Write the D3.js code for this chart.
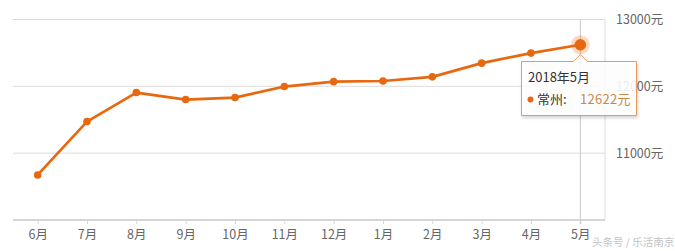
<!DOCTYPE html>
<html>
<head>
<meta charset="utf-8">
<script src="https://cdn.jsdelivr.net/npm/d3@7"></script>
<style>
  body { margin: 0; background: #fff; }
  svg { display: block; font-family: "Noto Sans CJK SC", "Noto Sans", sans-serif; }
</style>
</head>
<body>
<div id="chart"></div>
<script>
// data
const months = ['6月', '7月', '8月', '9月', '10月', '11月', '12月', '1月', '2月', '3月', '4月', '5月'];
const prices = [10674, 11473, 11907, 11802, 11832, 11997, 12070, 12080, 12142, 12347, 12497, 12622];
const yTicks = [11000, 12000, 13000];
const tipTitle = '2018年5月';
const seriesName = '常州';

const width = 675, height = 251;
const plotLeft = 13, plotRight = 605, plotTop = 19.5, plotBottom = 220;
const orange = '#e8680f';

const svg = d3.select('#chart').append('svg')
    .attr('width', width)
    .attr('height', height);

const x = d3.scalePoint().domain(months).range([plotLeft, plotRight]).padding(0.5);
const y = d3.scaleLinear().domain([10000, 13000]).range([plotBottom, plotTop]);

// grid lines
svg.append('g')
    .selectAll('line')
    .data(yTicks)
    .join('line')
    .attr('x1', plotLeft).attr('x2', plotRight)
    .attr('y1', d => y(d)).attr('y2', d => y(d))
    .attr('stroke', '#dcdcdc')
    .attr('stroke-width', 1);

// right frame line
svg.append('line')
    .attr('x1', plotRight).attr('x2', plotRight)
    .attr('y1', plotTop).attr('y2', plotBottom)
    .attr('stroke', '#dcdcdc');

// y labels on the right
svg.append('g')
    .selectAll('text')
    .data(yTicks)
    .join('text')
    .attr('x', 616)
    .attr('y', d => y(d))
    .attr('dy', '0.35em')
    .attr('font-size', 12.5)
    .attr('fill', '#666')
    .text(d => d + '元');

// x axis
const xAxis = svg.append('g')
    .attr('transform', `translate(0,${plotBottom})`)
    .call(d3.axisBottom(x).tickSize(4).tickPadding(6));
xAxis.select('.domain')
    .attr('d', `M${plotLeft},0H${plotRight}`)
    .attr('stroke', '#d6d6d6')
    .attr('stroke-width', 2);
xAxis.selectAll('.tick line').attr('stroke', '#d6d6d6');
xAxis.selectAll('.tick text')
    .attr('font-size', 12.5)
    .attr('fill', '#666')
    .attr('font-family', '"Noto Sans CJK SC", sans-serif');

// crosshair on the last month
const last = months.length - 1;
svg.append('line')
    .attr('x1', x(months[last])).attr('x2', x(months[last]))
    .attr('y1', plotTop).attr('y2', plotBottom + 4)
    .attr('stroke', '#c8c8c8');

// line
const line = d3.line()
    .x((d, i) => x(months[i]))
    .y(d => y(d));

svg.append('path')
    .datum(prices)
    .attr('d', line)
    .attr('fill', 'none')
    .attr('stroke', orange)
    .attr('stroke-width', 2.7)
    .attr('stroke-linejoin', 'round');

svg.append('g')
    .selectAll('circle')
    .data(prices.slice(0, last))
    .join('circle')
    .attr('cx', (d, i) => x(months[i]))
    .attr('cy', d => y(d))
    .attr('r', 3.8)
    .attr('fill', orange);

// highlighted point
const hx = x(months[last]), hy = y(prices[last]);
svg.append('circle')
    .attr('cx', hx).attr('cy', hy)
    .attr('r', 9.5)
    .attr('fill', 'rgba(240,120,40,0.28)');
svg.append('circle')
    .attr('cx', hx).attr('cy', hy)
    .attr('r', 5.8)
    .attr('fill', orange);

// tooltip
const defs = svg.append('defs');
const filter = defs.append('filter').attr('id', 'shadow')
    .attr('x', '-20%').attr('y', '-20%').attr('width', '140%').attr('height', '150%');
filter.append('feDropShadow')
    .attr('dx', 1).attr('dy', 2).attr('stdDeviation', 1.5)
    .attr('flood-color', '#000').attr('flood-opacity', 0.18);

const tipL = 521.5, tipR = 636.5, tipT = 61.5, tipB = 115.5;
const tip = svg.append('g');
tip.append('path')
    .attr('d', `M${tipL},${tipT}H${hx - 7}L${hx},${tipT - 7}L${hx + 7},${tipT}H${tipR}V${tipB}H${tipL}Z`)
    .attr('fill', 'rgba(255,255,255,0.88)')
    .attr('stroke', '#eb9a5a')
    .attr('stroke-width', 1)
    .attr('filter', 'url(#shadow)');
tip.append('text')
    .attr('x', 528).attr('y', 82)
    .attr('font-size', 13)
    .attr('fill', '#333')
    .text(tipTitle);
tip.append('circle')
    .attr('cx', 530.5).attr('cy', 99.5)
    .attr('r', 3)
    .attr('fill', orange);
tip.append('text')
    .attr('x', 537).attr('y', 104)
    .attr('font-size', 13)
    .attr('fill', '#333')
    .text(seriesName + ':');
tip.append('text')
    .attr('x', 580).attr('y', 104)
    .attr('font-size', 13)
    .attr('letter-spacing', 0.3)
    .attr('fill', '#c98a48')
    .text(prices[last] + '元');

// watermark
svg.append('text')
    .attr('x', 592).attr('y', 246)
    .attr('font-size', 10.5)
    .attr('fill', '#c4c4c4')
    .text('头条号 / 乐活南京');
</script>
</body>
</html>
